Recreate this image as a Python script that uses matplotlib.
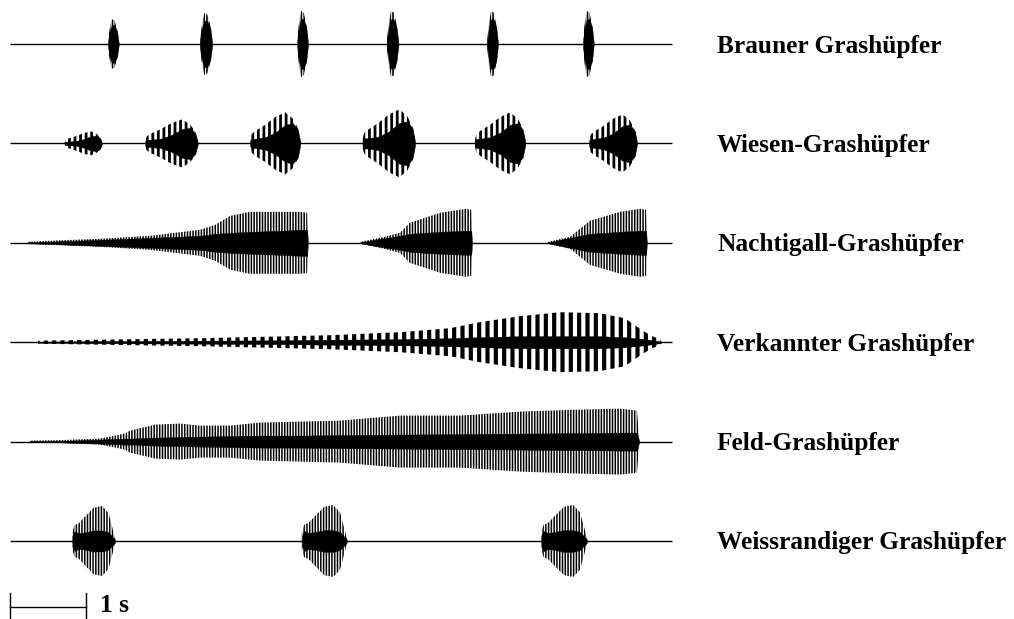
import numpy as np
import matplotlib as mpl
import matplotlib.pyplot as plt

# Oscillograms of six grasshopper songs (time in s, amplitude in relative units)

SONGS = ["Brauner Grashüpfer", "Wiesen-Grashüpfer", "Nachtigall-Grashüpfer",
         "Verkannter Grashüpfer", "Feld-Grashüpfer", "Weissrandiger Grashüpfer"]
TRACE_END = 8.71  # s, length of every recording

# burst type songs: burst start, burst end, peak amplitude
BRAUNER_START = [1.29, 2.50, 3.78, 4.96, 6.28, 7.54]
BRAUNER_END = [1.43, 2.66, 3.92, 5.11, 6.42, 7.68]
BRAUNER_AMP = [25, 31, 33, 33, 33, 33]
BRAUNER_POS = [0, 0.15, 0.35, 0.6, 0.85, 1]
BRAUNER_OUTER = [0.15, 0.6, 1.0, 0.95, 0.6, 0.1]
BRAUNER_CORE = [0.1, 0.5, 0.75, 0.75, 0.5, 0.05]

WIESEN_START = [0.72, 1.78, 3.16, 4.64, 6.12, 7.62]
WIESEN_END = [1.21, 2.47, 3.82, 5.33, 6.78, 8.25]
WIESEN_AMP = [12, 24, 31, 34, 31, 29]
WIESEN_POS = [0, 0.03, 0.1, 0.3, 0.5, 0.7, 0.85, 0.95, 1.0]
WIESEN_OUTER = [0.15, 0.3, 0.4, 0.6, 0.85, 1.0, 0.8, 0.5, 0.1]
WIESEN_CORE = [0.1, 0.15, 0.15, 0.2, 0.35, 0.6, 0.65, 0.45, 0.05]

WEISS_START = [0.82, 3.84, 6.99]
WEISS_END = [1.38, 4.43, 7.59]
WEISS_AMP = [35, 36, 36]
WEISS_POS = [0, 0.05, 0.15, 0.3, 0.5, 0.7, 0.85, 1.0]
WEISS_OUTER = [0.25, 0.45, 0.5, 0.7, 0.95, 1.0, 0.8, 0.1]
WEISS_CORE = [0.15, 0.28, 0.22, 0.25, 0.3, 0.3, 0.25, 0.05]

# continuous songs: envelope
NACHT_T = [[0.24, 0.66, 1.18, 1.84, 2.50, 2.70, 2.90, 3.16, 3.55, 3.82, 3.91, 3.92],
           [4.61, 4.87, 5.13, 5.26, 5.66, 6.00, 6.07, 6.08],
           [7.08, 7.37, 7.63, 8.03, 8.29, 8.37, 8.38]]
NACHT_OUTER = [[1, 2.5, 4, 7, 13, 18, 27, 31, 31, 31, 30, 0],
               [1, 5, 10, 20, 30, 34, 33, 0],
               [1, 6, 22, 31, 34, 33, 0]]
NACHT_CORE = [[0.5, 1.5, 3, 5, 7, 9, 10, 11, 12, 13, 13, 0],
              [0.5, 4, 7, 9, 11, 12, 12, 0],
              [0.5, 5, 9, 11, 12, 12, 0]]

VERK_T = [0.37, 1.18, 2.50, 3.68, 4.21, 5.13, 5.79, 6.18, 6.71, 7.24, 7.76, 8.09,
          8.22, 8.36, 8.45, 8.55, 8.58]
VERK_OUTER = [1.5, 2.5, 4, 6, 7, 10, 14, 20, 26, 30, 29, 24, 17, 10, 6, 3, 0]
VERK_CORE = [0.5, 1, 1.5, 2, 2.5, 3, 4, 5, 6, 6, 6, 5, 4, 3, 2, 1, 0]

FELD_T = [0.26, 0.66, 1.18, 1.32, 1.51, 1.58, 1.91, 2.24, 2.50, 2.89, 3.29, 3.82,
          4.34, 5.13, 5.92, 6.71, 7.50, 8.03, 8.25, 8.28]
FELD_OUTER = [1, 1.5, 3, 5, 8, 11, 17, 18, 16, 16, 19, 20, 21, 26, 26, 30, 32, 33, 31, 0]
FELD_CORE = [0.5, 0.7, 2, 2.5, 3, 3, 4, 4.5, 5, 5.5, 6, 6, 6.5, 7, 7.5, 8, 8.5, 9, 9, 0]

# layout
ROW0 = 44
ROW_STEP = 99.4
fig = plt.figure(figsize=(10.14, 6.19), dpi=100)
ax = fig.add_axes([0, 0, 1, 1])
ax.set_xlim(-10 / 76, 1004 / 76)
ax.set_ylim(619, 0)
ax.axis("off")


def draw_env(t, outer, core, y0, hatch, hlw):
    t = np.asarray(t, float)
    outer = np.asarray(outer, float)
    core = np.asarray(core, float)
    mpl.rcParams["hatch.linewidth"] = hlw
    pc = ax.fill_between(t, y0 - outer, y0 + outer, facecolor="none",
                         edgecolor="black", hatch=hatch, linewidth=0)
    if hasattr(pc, "set_hatch_linewidth"):
        pc.set_hatch_linewidth(hlw)
    ax.fill_between(t, y0 - core, y0 + core, color="black", linewidth=0.3)


def draw_bursts(starts, ends, amps, pos, outer, core, y0, hatch, hlw):
    for s, e, a in zip(starts, ends, amps):
        t = s + (e - s) * np.asarray(pos)
        draw_env(t, a * np.asarray(outer), a * np.asarray(core), y0, hatch, hlw)


rows = [ROW0 + i * ROW_STEP for i in range(6)]

for y0 in rows:
    ax.plot([0, TRACE_END], [y0, y0], color="black", lw=1.0, solid_capstyle="butt")

draw_bursts(BRAUNER_START, BRAUNER_END, BRAUNER_AMP, BRAUNER_POS, BRAUNER_OUTER,
            BRAUNER_CORE, rows[0], "||||||", 1.2)
draw_bursts(WIESEN_START, WIESEN_END, WIESEN_AMP, WIESEN_POS, WIESEN_OUTER,
            WIESEN_CORE, rows[1], "|||", 2.0)
for t, o, c in zip(NACHT_T, NACHT_OUTER, NACHT_CORE):
    draw_env(t, o, c, rows[2], "||||||", 1.1)
draw_env(VERK_T, VERK_OUTER, VERK_CORE, rows[3], "||", 3.0)
draw_env(FELD_T, FELD_OUTER, FELD_CORE, rows[4], "||||||", 1.1)
draw_bursts(WEISS_START, WEISS_END, WEISS_AMP, WEISS_POS, WEISS_OUTER,
            WEISS_CORE, rows[5], "||||||", 1.1)

for y0, name in zip(rows, SONGS):
    ax.text(707 / 76, y0 + 2, name, fontsize=18.3, fontweight="bold",
            family="Liberation Serif", va="center", ha="left")

# 1 s scale bar
ax.plot([0, 1], [607, 607], color="black", lw=1.0)
ax.plot([0, 0], [593, 619], color="black", lw=1.0)
ax.plot([1, 1], [593, 619], color="black", lw=1.0)
ax.text(90 / 76, 605, "1 s", fontsize=18.3, fontweight="bold",
        family="Liberation Serif", va="center", ha="left")

fig.savefig("out.png", dpi=100)
